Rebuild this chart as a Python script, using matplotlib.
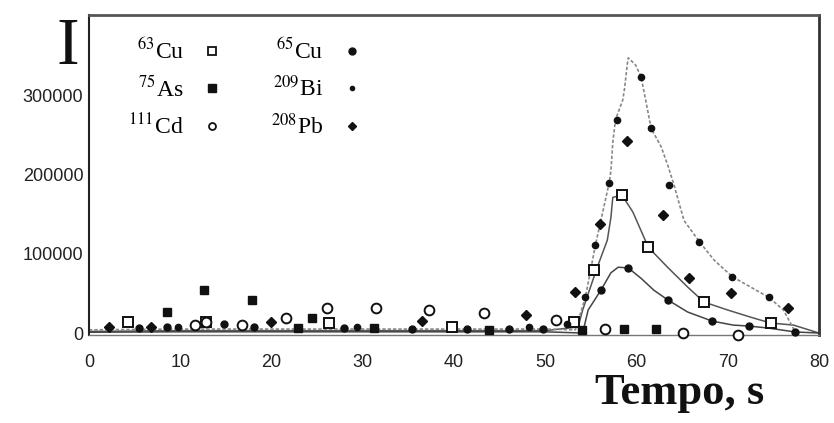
import numpy as np
import matplotlib
matplotlib.use("Agg")
import matplotlib.pyplot as plt
from matplotlib.lines import Line2D

# --- data (time in s, intensity in counts) ---
cu63_t = [4.3, 12.8, 26.3, 39.8, 53.1, 55.3, 58.4, 61.3, 67.4, 74.7]
cu63_v = [14000, 14000, 13000, 8000, 14000, 79000, 174000, 108000, 39000, 12600]

cu65_t = [5.5, 8.5, 14.8, 18.1, 27.9, 35.4, 41.4, 46.0, 49.8, 56.1, 59.1, 63.4, 68.3, 72.3, 77.4]
cu65_v = [6000, 7000, 12000, 8000, 6000, 5000, 5000, 5000, 5000, 54000, 82000, 42000, 15000, 8800, 1300]

as75_t = [8.5, 12.6, 17.9, 22.9, 24.4, 31.2, 43.8, 54.0, 58.6, 62.1]
as75_v = [26000, 54000, 42000, 6000, 19000, 6000, 4000, 4000, 5000, 5000]

bi209_t = [9.7, 29.4, 48.2, 52.4, 54.4, 55.5, 57.0, 57.9, 60.5, 61.6, 63.6, 66.9, 70.5, 74.5]
bi209_v = [7000, 7000, 7000, 12000, 45000, 111000, 189000, 269000, 323000, 258000, 187000, 115000, 71000, 45000]

cd111_t = [11.6, 12.8, 16.8, 21.6, 26.1, 31.4, 37.3, 43.3, 51.2, 56.6, 65.1, 71.1]
cd111_v = [10000, 14000, 10000, 19000, 31000, 31000, 29000, 25000, 16000, 5000, 0, -2000]

pb208_t = [2.2, 6.8, 19.9, 36.5, 47.9, 53.3, 56.0, 59.0, 62.9, 65.7, 70.4, 76.6]
pb208_v = [7500, 8000, 14000, 15000, 23000, 52000, 137000, 242000, 149000, 69000, 50000, 31500]

# traced signal curves
cu63_line_t = [0, 10, 20, 30, 40, 50, 53.6, 54.1, 55.7, 56.8, 57.2, 57.4, 58.4, 59.6, 61.3,
               63.4, 65.6, 67.4, 70.0, 72.5, 74.7, 77.2, 80.0]
cu63_line_v = [2000, 3000, 3000, 3000, 3000, 3000, 7600, 29000, 83000, 117000, 146000, 171000,
               174000, 152600, 108000, 83000, 58000, 39000, 29000, 20000, 12600, 10000, 0]

cu65_line_t = [0, 10, 20, 30, 40, 50, 54.1, 54.7, 56.1, 57.2, 58.0, 59.1, 60.5, 61.9, 63.4,
               65.6, 68.3, 70.6, 72.3, 74.4, 77.4, 80.0]
cu65_line_v = [1000, 1500, 1500, 1500, 1500, 1500, 0, 29000, 54000, 76000, 83000, 82000, 69000,
               54000, 42000, 26500, 15000, 10000, 8800, 6300, 1300, 0]

bi209_line_t = [0, 10, 20, 30, 40, 50, 53.3, 54.4, 55.5, 57.0, 57.2, 57.4, 57.7, 58.5, 58.7,
                59.0, 59.1, 59.9, 60.5, 61.0, 61.6, 62.7, 63.5, 64.1, 65.2, 66.9, 68.5, 70.5,
                72.5, 74.5, 76.1, 77.4]
bi209_line_v = [4000, 5000, 5000, 5000, 5000, 5000, 4000, 45000, 111000, 189000, 205000, 240000,
                269000, 294000, 309000, 340000, 347000, 338000, 323000, 294000, 258000, 235000,
                209000, 187000, 142000, 115000, 92000, 71000, 58000, 45000, 29000, 1300]

x_ticks = [0, 10, 20, 30, 40, 50, 60, 70, 80]
y_ticks = [0, 100000, 200000, 300000]

plt.rcParams["mathtext.fontset"] = "stix"

fig = plt.figure(figsize=(8.34, 4.23), dpi=100)
ax = fig.add_axes([89 / 834, 1 - 335 / 423, 730 / 834, 320 / 423])

ax.plot(cu63_line_t, cu63_line_v, color="#555555", lw=1.1, zorder=2)
ax.plot(cu65_line_t, cu65_line_v, color="#444444", lw=1.1, zorder=2)
ax.plot(bi209_line_t, bi209_line_v, color="#888888", lw=1.2, ls=(0, (2, 1.2)), zorder=2)

kw = dict(ls="none", zorder=3, clip_on=False)
ax.plot(cu63_t, cu63_v, marker="s", ms=7, mfc="white", mec="#111111", mew=1.4, **kw)
ax.plot(cu65_t, cu65_v, marker="o", ms=5, color="#111111", **kw)
ax.plot(as75_t, as75_v, marker="s", ms=6, color="#111111", **kw)
ax.plot(bi209_t, bi209_v, marker="o", ms=4.5, color="#111111", **kw)
ax.plot(cd111_t, cd111_v, marker="o", ms=7, mfc="white", mec="#111111", mew=1.4, **kw)
ax.plot(pb208_t, pb208_v, marker="D", ms=5.5, color="#111111", **kw)

ax.set_xlim(0, 80)
ax.set_ylim(-2500, 401000)
ax.set_xticks(x_ticks)
ax.set_yticks(y_ticks)
ax.set_xticklabels([str(v) for v in x_ticks])
ax.set_yticklabels([str(v) for v in y_ticks])
ax.tick_params(length=0, labelsize=13, labelcolor="#222222")
ax.tick_params(axis="x", pad=14)
ax.tick_params(axis="y", pad=4)
for lab in ax.get_xticklabels() + ax.get_yticklabels():
    lab.set_family("Liberation Sans")

ax.spines["left"].set_color("#222222")
ax.spines["left"].set_linewidth(1.5)
ax.spines["right"].set_color("#333333")
ax.spines["right"].set_linewidth(2)
ax.spines["top"].set_color("#555555")
ax.spines["top"].set_linewidth(2)
ax.spines["bottom"].set_color("#777777")
ax.spines["bottom"].set_linewidth(1)

handles = [
    Line2D([], [], ls="none", marker="s", ms=6, mfc="white", mec="#111111", mew=1.3),
    Line2D([], [], ls="none", marker="s", ms=6, color="#111111"),
    Line2D([], [], ls="none", marker="o", ms=5, mfc="white", mec="#111111", mew=1.3),
    Line2D([], [], ls="none", marker="o", ms=5, color="#111111"),
    Line2D([], [], ls="none", marker="o", ms=3, color="#111111"),
    Line2D([], [], ls="none", marker="D", ms=4.5, color="#111111"),
]
labels = [r"$^{63}$Cu", r"$^{75}$As", r"$^{111}$Cd", r"$^{65}$Cu", r"$^{209}$Bi", r"$^{208}$Pb"]
leg = ax.legend(handles, labels, ncol=2, markerfirst=False, frameon=False,
                loc="upper left", bbox_to_anchor=(0.031, 0.978),
                prop={"family": "Liberation Serif", "size": 17},
                handlelength=1.0, handletextpad=0.7, columnspacing=2.0,
                labelspacing=0.5, borderaxespad=0.3)

fig.text(68 / 834, 1 - 47 / 423, "I", family="Liberation Serif", fontsize=49,
         ha="center", va="center", color="#111111")
fig.text(680 / 834, 1 - 404 / 423, "Tempo, s", family="Liberation Serif", fontsize=32,
         fontweight="bold", ha="center", va="baseline", color="#111111")

fig.savefig("out.png", dpi=100)
